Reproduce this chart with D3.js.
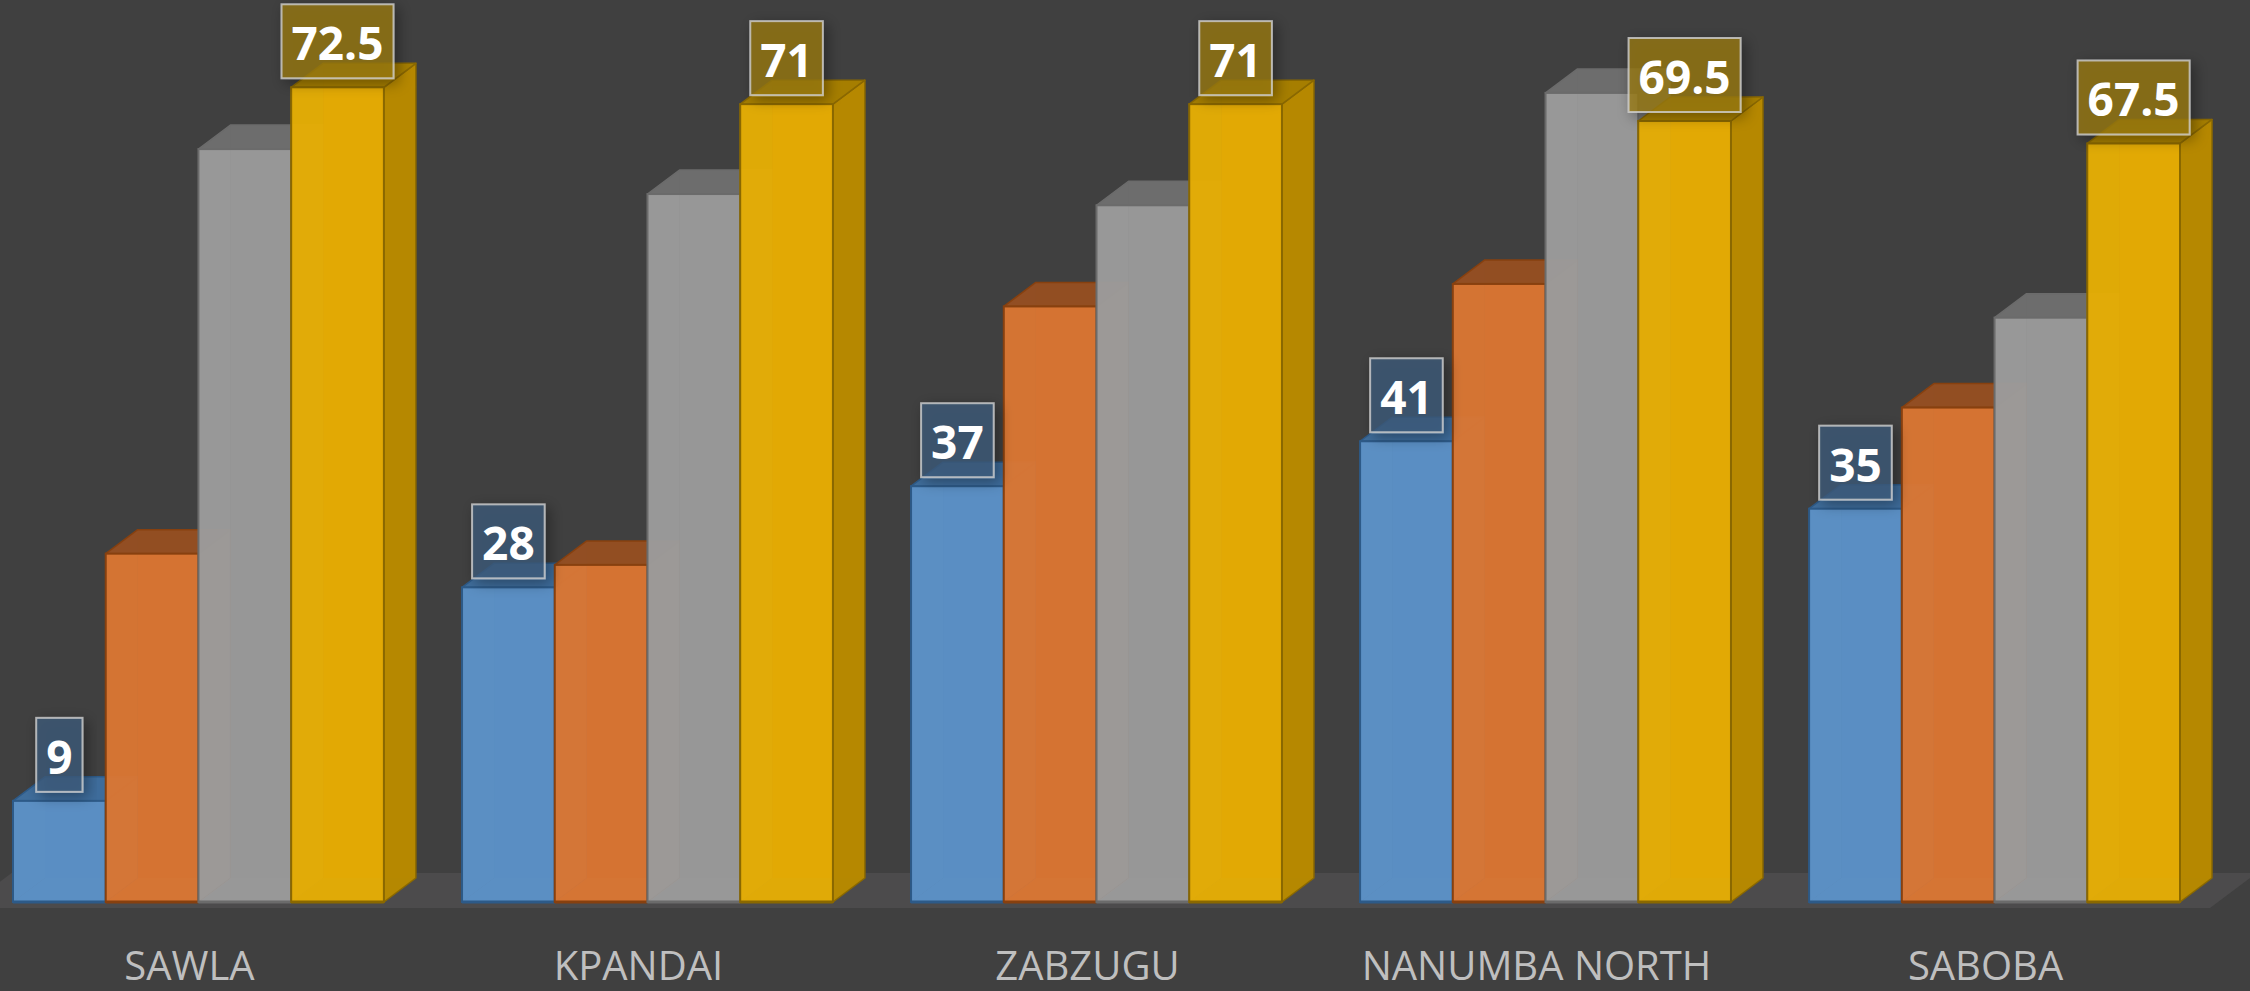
<!DOCTYPE html>
<html>
<head>
<meta charset="utf-8">
<script src="https://cdn.jsdelivr.net/npm/d3@7"></script>
<style>
  html, body { margin: 0; padding: 0; background: #404040; }
  svg { display: block; }
</style>
</head>
<body>
<div class="chart"></div>
<script>
// data
const categories = ["SAWLA", "KPANDAI", "ZABZUGU", "NANUMBA NORTH", "SABOBA"];
const seriesNames = ["Series 1", "Series 2", "Series 3", "Series 4"];
const series1 = [9, 28, 37, 41, 35];
const series2 = [31, 30, 53, 55, 44];
const series3 = [67, 63, 62, 72, 52];
const series4 = [72.5, 71, 71, 69.5, 67.5];
const labelled = [true, false, false, true]; // only blue and yellow carry data labels

const values = [series1, series2, series3, series4];
const front = ["#5a8ec2", "#d57332", "#979797", "#e2a905"];
const top_ = ["#3d6a99", "#8e4c22", "#6a6a6a", "#a27b00"];
const side = ["#3f6b98", "#9c5424", "#727272", "#b38600"];
const edge = ["#2d5a88", "#87400f", "#6b6b6b", "#8a6800"];
const labelFill = ["#3f5c7b", null, null, "#9a7a12"];

const width = 2250, height = 991;
const dx = 32, dy = -24;   // oblique depth of each box

const svg = d3.select(".chart").append("svg")
    .attr("width", width).attr("height", height)
    .attr("viewBox", [0, 0, width, height]);

svg.append("rect").attr("width", width).attr("height", height).attr("fill", "#404040");

const defs = svg.append("defs");
const sh = defs.append("filter").attr("id", "shadow")
    .attr("x", "-30%").attr("y", "-30%").attr("width", "160%").attr("height", "160%");
sh.append("feDropShadow").attr("dx", 4).attr("dy", 4).attr("stdDeviation", 7)
    .attr("flood-color", "#000").attr("flood-opacity", 0.45);

const x0 = d3.scaleBand().domain(categories).range([13, 2180]).paddingInner(0.174).paddingOuter(0);
const x1 = d3.scaleBand().domain(seriesNames).range([0, x0.bandwidth()]);
const y = d3.scaleLinear().domain([0, 80]).range([902, 3]);
const base = y(0);

// floor slab
const fl = x0.range();
const fFront = base + 6, fBack = base - 29, fShift = (fFront - fBack) * dx / -dy;
svg.append("polygon")
    .attr("points", [[fl[0] - 48, fFront], [fl[1] + 30, fFront], [fl[1] + 30 + fShift, fBack], [fl[0] - 48 + fShift, fBack]].join(" "))
    .attr("fill", "#4c4b4c");

const bars = [];
categories.forEach((c, ci) => {
    seriesNames.forEach((s, si) => {
        bars.push({cat: c, si: si, v: values[si][ci]});
    });
});

const pts = a => a.map(p => p.join(",")).join(" ");

const g = svg.append("g");
bars.forEach(d => {
    const x = x0(d.cat) + x1(seriesNames[d.si]);
    const w = x1.bandwidth();
    const yt = y(d.v);
    const b = g.append("g");
    // back face
    b.append("polygon")
        .attr("points", pts([[x + dx, yt + dy], [x + w + dx, yt + dy], [x + w + dx, base + dy], [x + dx, base + dy]]))
        .attr("fill", front[d.si]);
    // inner left and bottom faces, seen through the front
    const lite = d3.color(front[d.si]).brighter(0.6);
    b.append("polygon")
        .attr("points", pts([[x, yt], [x + dx, yt + dy], [x + dx, base + dy], [x, base]]))
        .attr("fill", lite).attr("fill-opacity", 0.75);
    b.append("polygon")
        .attr("points", pts([[x, base], [x + dx, base + dy], [x + w + dx, base + dy], [x + w, base]]))
        .attr("fill", lite).attr("fill-opacity", 0.75);
    // right face
    b.append("polygon")
        .attr("points", pts([[x + w, yt], [x + w + dx, yt + dy], [x + w + dx, base + dy], [x + w, base]]))
        .attr("fill", side[d.si]).attr("fill-opacity", 0.95)
        .attr("stroke", edge[d.si]).attr("stroke-width", 1.5).attr("stroke-linejoin", "round");
    // top face
    b.append("polygon")
        .attr("points", pts([[x, yt], [x + dx, yt + dy], [x + w + dx, yt + dy], [x + w, yt]]))
        .attr("fill", top_[d.si]).attr("fill-opacity", 0.95)
        .attr("stroke", edge[d.si]).attr("stroke-width", 1.5).attr("stroke-linejoin", "round");
    // front face
    b.append("rect")
        .attr("x", x).attr("y", yt).attr("width", w).attr("height", base - yt)
        .attr("fill", front[d.si]).attr("fill-opacity", 0.86)
        .attr("stroke", edge[d.si]).attr("stroke-width", 2);
    b.append("line")
        .attr("x1", x).attr("x2", x + w).attr("y1", base).attr("y2", base)
        .attr("stroke", edge[d.si]).attr("stroke-width", 3);
});

// data labels
const lab = svg.append("g");
bars.filter(d => labelled[d.si]).forEach(d => {
    const cx = x0(d.cat) + x1(seriesNames[d.si]) + x1.bandwidth() / 2;
    const bottom = y(d.v) - 9;
    const lg = lab.append("g");
    const r = lg.append("rect");
    const t = lg.append("text")
        .attr("x", cx).attr("y", bottom - 18)
        .attr("text-anchor", "middle")
        .attr("font-family", "Open Sans")
        .attr("font-weight", "bold")
        .attr("font-size", 46)
        .attr("fill", "#ffffff")
        .text(d.v);
    const tw = t.node().getComputedTextLength();
    r.attr("x", cx - tw / 2 - 10).attr("y", bottom - 74)
        .attr("width", tw + 20).attr("height", 74)
        .attr("fill", labelFill[d.si]).attr("fill-opacity", 0.75)
        .attr("stroke", "#d0d0d0").attr("stroke-opacity", 0.8).attr("stroke-width", 2)
        .attr("filter", "url(#shadow)");
});

// category labels
svg.append("g").selectAll("text")
    .data(categories)
    .join("text")
    .attr("x", d => x0(d) + x0.bandwidth() / 2 - 9)
    .attr("y", 980)
    .attr("text-anchor", "middle")
    .attr("font-family", "Open Sans")
    .attr("font-size", 40)
    .attr("fill", "#bfbfbf")
    .text(d => d);
</script>
</body>
</html>
